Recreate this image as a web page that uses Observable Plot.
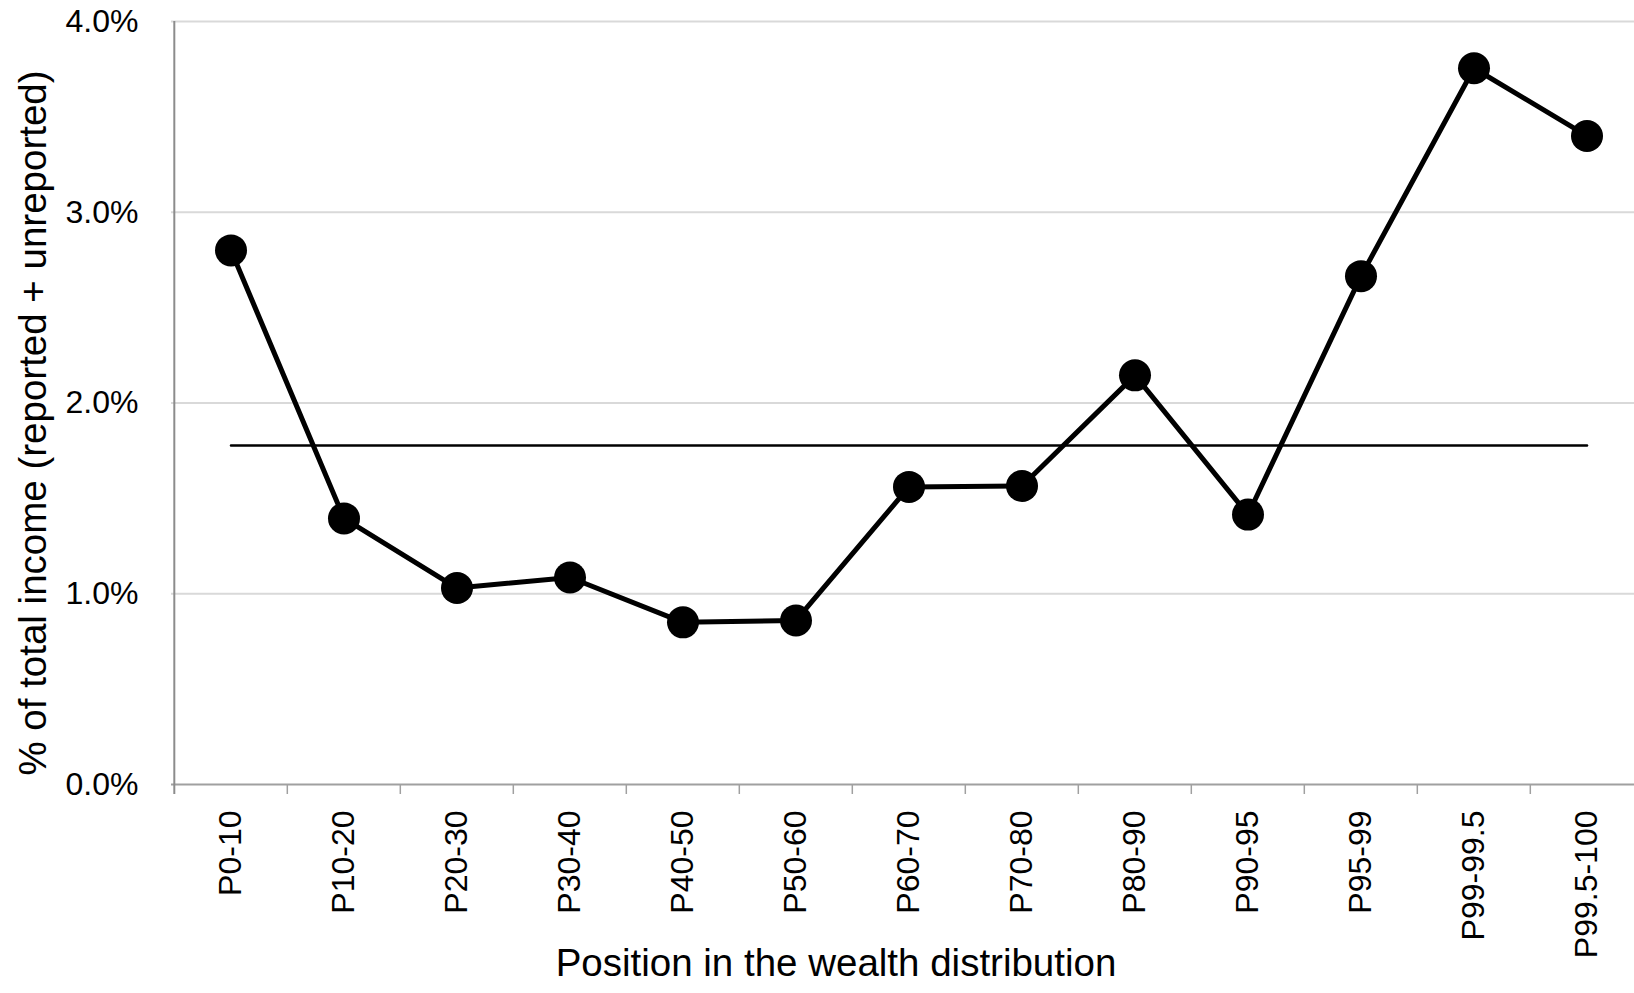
<!DOCTYPE html>
<html>
<head>
<meta charset="utf-8">
<script src="https://cdn.jsdelivr.net/npm/d3@7"></script>
<script src="https://cdn.jsdelivr.net/npm/@observablehq/plot@0.6"></script>
<style>
html, body { margin: 0; padding: 0; overflow: hidden; background: #fff; }
</style>
</head>
<body>
<div id="chart"></div>
<script>
// ---- data ----
const categories = ["P0-10", "P10-20", "P20-30", "P30-40", "P40-50", "P50-60", "P60-70",
                    "P70-80", "P80-90", "P90-95", "P95-99", "P99-99.5", "P99.5-100"];
const shares = [2.80, 1.395, 1.03, 1.085, 0.85, 0.86, 1.56, 1.565, 2.145, 1.415, 2.665, 3.755, 3.40];
const averageShare = 1.777;
const yTicks = [0, 1, 2, 3, 4];
const xTitle = "Position in the wealth distribution";
const yTitle = "% of total income (reported + unreported)";

// ---- layout ----
const W = 1634, H = 993;
const mLeft = 171, mTop = 21, mBottom = 209;
const xRange = [171, 1645];
const step = (xRange[1] - xRange[0]) / categories.length;
const font = "'Liberation Sans', Arial, Helvetica, sans-serif";

const rows = categories.map((c, i) => ({c, v: shares[i]}));

const chart = Plot.plot({
  width: W,
  height: H,
  marginLeft: mLeft,
  marginTop: mTop,
  marginBottom: mBottom,
  marginRight: 0,
  style: {fontFamily: font, background: "#fff", color: "#000"},
  x: {type: "band", domain: categories, range: xRange, padding: 0, axis: null},
  y: {domain: [0, 4], axis: null},
  marks: [
    // gridlines
    Plot.ruleY(yTicks.filter(d => d > 0), {stroke: "#d9d9d9", strokeWidth: 2}),
    // x axis baseline
    Plot.ruleY([0], {stroke: "#a0a0a0", strokeWidth: 2}),
    // category separator ticks (band edges)
    Plot.ruleX(categories.slice(1), {x: d => d, y1: 0, y2: 0, insetTop: 10, dx: -step / 2, stroke: "#a0a0a0", strokeWidth: 1.5}),
    // y axis line
    Plot.ruleX([categories[0]], {x: d => d, y1: 0, y2: 4, insetTop: 10, dx: -step / 2, stroke: "#8c8c8c", strokeWidth: 2}),
    // y tick labels
    Plot.axisY(yTicks, {tickSize: 0, tickPadding: 33, tickFormat: d => d.toFixed(1) + "%", fontSize: 32, label: null, fill: "#000"}),
    // x tick labels
    Plot.axisX(categories, {tickSize: 0, tickRotate: -90, tickPadding: 26, fontSize: 32, label: null, fill: "#000"}),
    // average line
    Plot.line(categories, {x: d => d, y: () => averageShare, stroke: "#000", strokeWidth: 2.5}),
    // main series
    Plot.line(rows, {x: "c", y: "v", stroke: "#000", strokeWidth: 5}),
    Plot.dot(rows, {x: "c", y: "v", r: 16, fill: "#000", stroke: "none"}),
    // titles
    Plot.text([xTitle], {text: d => d, frameAnchor: "bottom", textAnchor: "middle", dx: -67, dy: 191, fontSize: 38.5, fill: "#000"}),
    Plot.text([yTitle], {text: d => d, frameAnchor: "left", textAnchor: "middle", rotate: -90, dx: -138, dy: 20, fontSize: 38.5, fill: "#000"})
  ]
});

document.getElementById("chart").appendChild(chart);
</script>
</body>
</html>
